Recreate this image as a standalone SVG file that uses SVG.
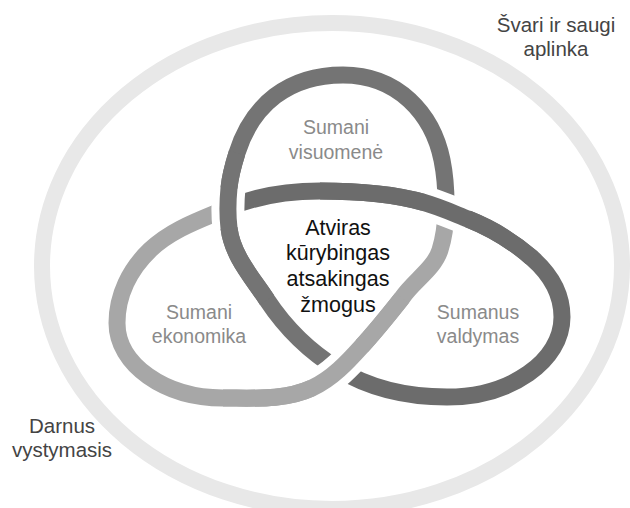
<svg xmlns="http://www.w3.org/2000/svg" width="630" height="508" viewBox="0 0 630 508">
<style>
.band{fill:none;stroke-linecap:butt;stroke-linejoin:round;stroke-width:17}
.top{stroke:#747474}
.right{stroke:#6c6c6c}
.left{stroke:#a7a7a7}
.casing{fill:none;stroke:#ffffff;stroke-width:33;stroke-linecap:butt}
.lbl{font-family:"Liberation Sans",Arial,sans-serif;text-anchor:middle}
.outerlbl{font-size:20.5px;fill:#444444}
.ringlbl{font-size:19.5px;fill:#8a8a8a}
.center{font-size:21.5px;fill:#111111}
</style>
<rect width="630" height="508" fill="#ffffff"/>
<g id="outer-ring">
<ellipse cx="332" cy="266" rx="290" ry="243" fill="none" stroke="#e8e8e8" stroke-width="16"/>
</g>
<g id="knot">
<g id="ring-top">
<path class="band top" d="M446,210 C446.3,193.3 445.3,176.4 442,160 C432.6,114 398,75 343,75 C288,75 252,105.3 237,153 C233.4,164.4 230.2,176 229,188 C227.7,201.2 227.4,214.8 229,228 C232.4,255.8 251.6,276.6 267,300 C285.8,328.4 309.1,351.3 338,369"/>
</g>
<g id="ring-right">
<path class="band right" d="M338,369 C370.3,388.8 409,397 447,397 C510.5,397 562,361.2 562,317 C562,293 550,273.8 532,258 C513.25,241.5 491.25,228.25 468,219 C453.4,213.2 439.1,206.7 424,202.5 C390.3,193 355,191 320,191 C289,191 256.5,195.9 228,208"/>
</g>
<g id="ring-left">
<path class="band left" d="M228,208 C200.4,219.7 171.6,229.3 150,250 C129.8,269.3 117,295 117,323 C117,364.4 164.5,398 223,398 C253,398 284.7,400.6 312,388 C332,378.8 347.3,362.3 362,346 C376.1,330.5 389,314.5 402,298 C413,281.3 434,269.1 440,250 C444.1,237.1 445.7,223.5 446,210"/>
</g>
<g id="crossings">
<path class="casing" d="M229,188 C227.7,201.2 227.4,214.8 229,228"/>
<path class="band top" d="M237,153 C233.4,164.4 230.2,176 229,188 C227.7,201.2 227.4,214.8 229,228 C232.4,255.8 251.6,276.6 267,300"/>
<path class="casing" d="M468,219 C453.4,213.2 439.1,206.7 424,202.5"/>
<path class="band right" d="M532,258 C513.25,241.5 491.25,228.25 468,219 C453.4,213.2 439.1,206.7 424,202.5 C390.3,193 355,191 320,191"/>
<path class="casing" d="M312,388 C332,378.8 347.3,362.3 362,346"/>
<path class="band left" d="M223,398 C253,398 284.7,400.6 312,388 C332,378.8 347.3,362.3 362,346 C376.1,330.5 389,314.5 402,298"/>
</g>
</g>
<g id="label-environment" class="lbl outerlbl">
<text x="556" y="32">Švari ir saugi</text>
<text x="556" y="56">aplinka</text>
</g>
<g id="label-sustainable" class="lbl outerlbl">
<text x="62" y="433">Darnus</text>
<text x="62" y="457">vystymasis</text>
</g>
<g id="label-society" class="lbl ringlbl">
<text x="336" y="134">Sumani</text>
<text x="336" y="159">visuomenė</text>
</g>
<g id="label-economy" class="lbl ringlbl">
<text x="199" y="319">Sumani</text>
<text x="199" y="343">ekonomika</text>
</g>
<g id="label-governance" class="lbl ringlbl">
<text x="478" y="319">Sumanus</text>
<text x="478" y="343">valdymas</text>
</g>
<g id="label-center" class="lbl center">
<text x="338" y="235">Atviras</text>
<text x="338" y="260">kūrybingas</text>
<text x="338" y="286">atsakingas</text>
<text x="338" y="312">žmogus</text>
</g>
</svg>
